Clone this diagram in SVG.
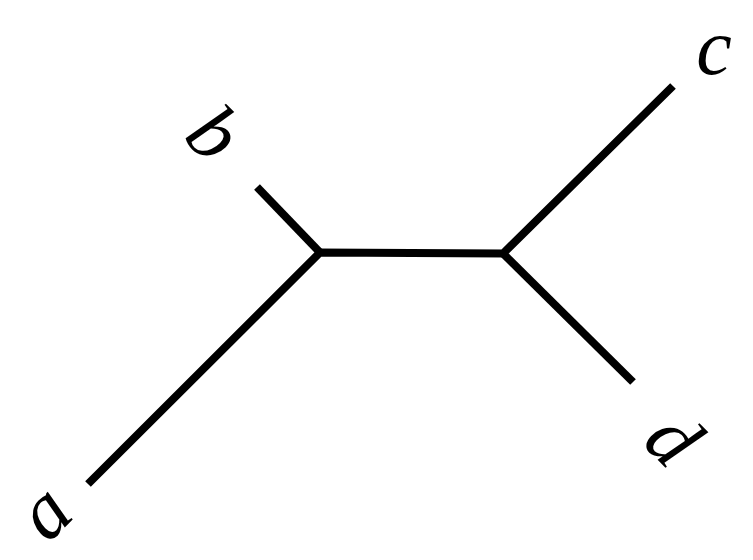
<svg xmlns="http://www.w3.org/2000/svg" width="753" height="560" viewBox="0 0 753 560">
<style>
.edge{fill:none;stroke:#000;stroke-width:8;stroke-linecap:butt;stroke-linejoin:miter}
.lbl{font-family:"Liberation Serif","Times New Roman",serif;font-style:italic;font-size:80px;fill:#000;text-anchor:middle;dominant-baseline:central}
</style>
<rect width="753" height="560" fill="#fff"/>
<g id="connectors">
<polyline class="edge" points="88,484 320,252.5 503,253.5 673,86"/>
<polyline class="edge" points="257,187 320,252.5"/>
<polyline class="edge" points="503,253.5 633,382"/>
</g>
<g id="node-a"><text class="lbl" transform="translate(43,511) rotate(-45)">a</text></g>
<g id="node-b"><text class="lbl" transform="translate(215,133) rotate(45)">b</text></g>
<g id="node-c"><text class="lbl" transform="translate(714,47)">c</text></g>
<g id="node-d"><text class="lbl" transform="translate(674,438) rotate(45)">d</text></g>
</svg>
